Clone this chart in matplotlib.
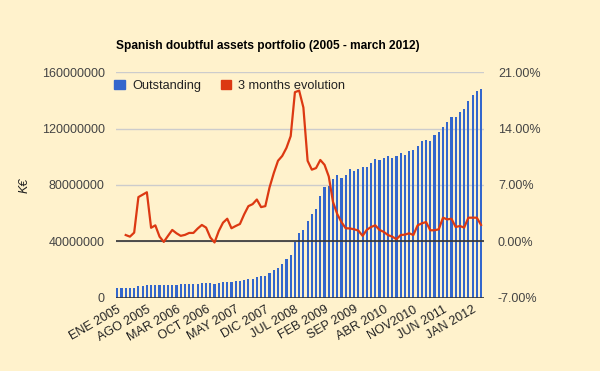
import numpy as np
import matplotlib
matplotlib.use('Agg')
import matplotlib.pyplot as plt
from matplotlib.patches import Patch

plt.rcParams['font.family'] = ['Liberation Sans', 'DejaVu Sans']

# outstanding doubtful assets, millions of K€, monthly ENE 2005 .. MAR 2012
outstanding = [7.2, 7.2, 7.2, 7.1, 7.2, 8.5, 8.6, 9.2, 9.2, 9.2,
               9.2, 9.2, 9.2, 9.2, 9.2, 9.9, 9.9, 9.9, 9.9, 9.9,
               10.6, 10.6, 10.6, 9.9, 10.6, 11.3, 11.3, 11.3, 12.0, 12.0,
               12.7, 13.4, 13.4, 14.8, 15.5, 15.5, 17.6, 19.8, 21.2, 24.0,
               27.5, 30.4, 39.8, 45.9, 48.0, 54.4, 59.3, 62.8, 72.0, 78.4,
               79.1, 84.0, 86.8, 85.2, 87.3, 91.1, 89.6, 91.1, 92.5, 92.9,
               95.8, 98.1, 97.4, 99.3, 100.2, 98.8, 100.2, 102.4, 100.9, 103.8,
               104.5, 107.3, 110.8, 112.2, 111.5, 115.1, 117.2, 121.4, 124.9, 127.8,
               128.5, 132.0, 134.1, 139.8, 144.0, 146.8, 148.2]

# 3 months evolution (%), starts at MAR 2005
evolution = [0.8, 0.6, 1.1, 5.5, 5.8, 6.1, 1.7, 2.0, 0.6, -0.05,
             0.7, 1.43, 1.02, 0.7, 0.82, 1.06, 1.06, 1.6, 2.05, 1.72,
             0.5, -0.12, 1.3, 2.33, 2.82, 1.64, 1.92, 2.17, 3.36, 4.38,
             4.63, 5.2, 4.26, 4.38, 6.7, 8.47, 10.0, 10.6, 11.6, 13.06,
             18.5, 18.7, 16.6, 10.0, 8.9, 9.1, 10.1, 9.5, 8.06, 4.9,
             3.4, 2.4, 1.64, 1.62, 1.51, 1.35, 0.7, 1.45, 1.8, 2.0,
             1.43, 1.19, 0.8, 0.6, 0.29, 0.8, 0.85, 1.02, 0.8, 2.0,
             2.25, 2.41, 1.39, 1.39, 1.51, 2.95, 2.74, 2.82, 1.8, 1.92,
             1.72, 2.95, 2.95, 2.95, 2.05]
evolution_start = 2

tick_labels = ['ENE 2005', 'AGO 2005', 'MAR 2006', 'OCT 2006', 'MAY 2007',
               'DIC 2007', 'JUL 2008', 'FEB 2009', 'SEP 2009', 'ABR 2010',
               'NOV2010', 'JUN 2011', 'JAN 2012']

bg = '#fff2cc'
blue = '#3366cc'
red = '#dc3912'
txt = '#222222'

fig = plt.figure(figsize=(6, 3.71), dpi=100, facecolor=bg)
ax = fig.add_axes([0.1933, 0.1968, 0.6134, 0.6091])
ax.set_facecolor(bg)

x = np.arange(len(outstanding))
ax.bar(x, np.array(outstanding) * 1e6, width=0.5, color=blue, zorder=2)
ax.set_xlim(-0.3, len(outstanding) - 0.3)
ax.set_ylim(0, 160e6)
ax.set_yticks(np.arange(0, 160e6 + 1, 40e6))
ax.set_yticklabels(['%d' % v for v in np.arange(0, 160e6 + 1, 40e6)])
ax.grid(axis='y', color='#cccccc', linewidth=1, zorder=0)
ax.set_xticks(x[::7])
ax.set_xticklabels(tick_labels, rotation=30, ha='right', rotation_mode='anchor')
ax.tick_params(axis='both', length=0, labelsize=9, labelcolor=txt)
ax.tick_params(axis='y', pad=8, labelcolor='#444444')
ax.tick_params(axis='x', pad=4)
for s in ax.spines.values():
    s.set_visible(False)
ax.axhline(0, color='#333333', linewidth=1.2, zorder=3)
ax.set_ylabel('K€', fontstyle='italic', fontsize=9, color=txt, labelpad=8)

ax2 = ax.twinx()
ax2.set_ylim(-7, 21)
ax2.set_yticks([-7, 0, 7, 14, 21])
ax2.set_yticklabels(['%.2f%%' % v for v in [-7, 0, 7, 14, 21]])
ax2.tick_params(axis='y', length=0, labelsize=9, labelcolor='#444444', pad=10)
for s in ax2.spines.values():
    s.set_visible(False)
ax2.axhline(0, color='#333333', linewidth=1.2, zorder=1)
xe = np.arange(evolution_start, evolution_start + len(evolution))
ax2.plot(xe, evolution, color=red, linewidth=1.6, zorder=4)

handles = [Patch(facecolor=blue, edgecolor=blue),
           Patch(facecolor=red, edgecolor=red)]
ax.legend(handles, ['Outstanding', '3 months evolution'], loc='upper left',
          bbox_to_anchor=(-0.025, 1.0), ncol=2, frameon=False, fontsize=9.2,
          handlelength=0.8, handleheight=0.8, handletextpad=0.6,
          columnspacing=1.5, labelcolor=txt, borderaxespad=0.2)

fig.text(0.1933, 0.86, 'Spanish doubtful assets portfolio (2005 - march 2012)',
         fontsize=8.6, fontweight='bold', color='#000000', ha='left', va='bottom')

fig.savefig('out.png', dpi=100, facecolor=bg)
